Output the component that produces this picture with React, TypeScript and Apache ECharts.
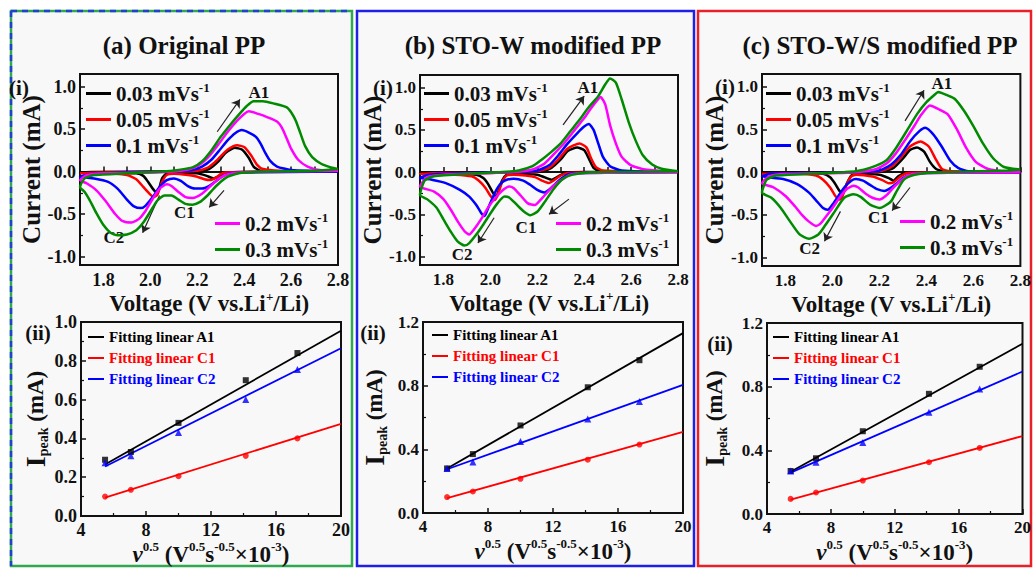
import React, { useEffect, useRef } from 'react';
import * as echarts from 'echarts';

const FONT = '"Liberation Serif", "Times New Roman", serif';
const INK = '#111111';

// ---------- data ----------
const scanRates = ['0.03', '0.05', '0.1', '0.2', '0.3'];
const cvColors = ['#000000', '#ff0000', '#0000ff', '#ff00ff', '#008a00'];

// Panel (a) Original PP : CV loops [V, mA], cathodic 2.8 -> 1.7 then anodic 1.7 -> 2.8
const cvA_003 = [[2.8,0],[2.5,0],[2.33,-0.01],[2.3,-0.04],[2.27,-0.08],[2.24,-0.05],[2.2,-0.02],[2.1,-0.015],[2.07,-0.02],[2.05,-0.08],[2.035,-0.22],[2.025,-0.24],[2.01,-0.2],[1.99,-0.12],[1.97,-0.05],[1.94,-0.02],[1.85,-0.012],[1.7,-0.01],
  [1.75,-0.005],[2.0,0],[2.2,0.005],[2.25,0.03],[2.29,0.12],[2.32,0.22],[2.36,0.28],[2.39,0.26],[2.42,0.16],[2.44,0.06],[2.47,0.01],[2.6,0],[2.8,0]];
const cvA_005 = [[2.8,0],[2.4,-0.005],[2.32,-0.01],[2.3,-0.03],[2.28,-0.07],[2.255,-0.1],[2.23,-0.09],[2.2,-0.06],[2.16,-0.04],[2.1,-0.025],[2.07,-0.04],[2.05,-0.12],[2.03,-0.27],[2.015,-0.3],[2.0,-0.27],[1.97,-0.18],[1.94,-0.09],[1.9,-0.04],[1.8,-0.02],[1.7,-0.02],
  [1.75,-0.012],[1.9,-0.01],[2.1,0],[2.2,0.01],[2.24,0.04],[2.27,0.1],[2.3,0.18],[2.33,0.26],[2.37,0.31],[2.4,0.29],[2.43,0.19],[2.455,0.08],[2.48,0.03],[2.55,0.01],[2.8,0]];
const cvA_01 = [[2.8,0],[2.4,-0.01],[2.34,-0.02],[2.31,-0.05],[2.28,-0.11],[2.25,-0.17],[2.22,-0.2],[2.19,-0.2],[2.16,-0.17],[2.13,-0.11],[2.1,-0.08],[2.07,-0.1],[2.04,-0.18],[2.01,-0.3],[1.98,-0.4],[1.96,-0.43],[1.93,-0.41],[1.9,-0.33],[1.86,-0.2],[1.82,-0.12],[1.76,-0.08],[1.7,-0.06],
  [1.74,-0.03],[1.9,-0.01],[2.1,0],[2.18,0.02],[2.22,0.06],[2.26,0.14],[2.3,0.27],[2.33,0.37],[2.36,0.45],[2.39,0.49],[2.42,0.46],[2.45,0.41],[2.47,0.33],[2.49,0.22],[2.51,0.13],[2.54,0.06],[2.6,0.02],[2.8,0]];
const cvA_02 = [[2.8,0.01],[2.5,0],[2.38,-0.01],[2.33,-0.03],[2.3,-0.07],[2.26,-0.16],[2.22,-0.26],[2.18,-0.31],[2.15,-0.3],[2.12,-0.24],[2.09,-0.17],[2.07,-0.15],[2.04,-0.2],[2.01,-0.32],[1.98,-0.46],[1.95,-0.56],[1.92,-0.6],[1.88,-0.58],[1.85,-0.5],[1.81,-0.35],[1.77,-0.22],[1.73,-0.14],[1.7,-0.1],
  [1.73,-0.04],[1.8,-0.02],[2.0,-0.01],[2.1,0],[2.17,0.03],[2.21,0.08],[2.25,0.18],[2.29,0.32],[2.33,0.47],[2.37,0.6],[2.4,0.68],[2.42,0.71],[2.46,0.68],[2.5,0.64],[2.54,0.59],[2.56,0.52],[2.58,0.4],[2.6,0.27],[2.63,0.14],[2.67,0.06],[2.72,0.02],[2.8,0.01]];
const cvA_03 = [[2.8,0.03],[2.7,0.01],[2.5,0],[2.4,-0.01],[2.36,-0.03],[2.33,-0.06],[2.3,-0.12],[2.27,-0.2],[2.24,-0.29],[2.21,-0.36],[2.18,-0.39],[2.15,-0.38],[2.12,-0.33],[2.09,-0.28],[2.06,-0.28],[2.03,-0.34],[2.0,-0.47],[1.97,-0.6],[1.94,-0.69],[1.9,-0.74],[1.86,-0.75],[1.83,-0.72],[1.8,-0.63],[1.77,-0.49],[1.74,-0.33],[1.72,-0.24],[1.7,-0.18],
  [1.72,-0.08],[1.76,-0.04],[1.9,-0.02],[2.05,0],[2.12,0.02],[2.18,0.05],[2.22,0.12],[2.26,0.25],[2.3,0.41],[2.34,0.55],[2.38,0.68],[2.41,0.77],[2.44,0.83],[2.48,0.83],[2.53,0.8],[2.58,0.76],[2.6,0.7],[2.62,0.6],[2.64,0.45],[2.66,0.3],[2.69,0.17],[2.73,0.09],[2.77,0.05],[2.8,0.03]];

// Panel (b) STO-W modified PP
const cvB_003 = [[2.8,0],[2.4,0],[2.32,-0.01],[2.29,-0.05],[2.26,-0.09],[2.23,-0.06],[2.2,-0.03],[2.1,-0.02],[2.07,-0.03],[2.05,-0.1],[2.035,-0.22],[2.025,-0.29],[2.01,-0.24],[1.99,-0.14],[1.97,-0.07],[1.94,-0.03],[1.85,-0.02],[1.7,-0.01],
  [1.8,-0.005],[2.1,0],[2.22,0.01],[2.26,0.05],[2.3,0.15],[2.33,0.25],[2.37,0.29],[2.4,0.26],[2.42,0.16],[2.44,0.05],[2.47,0.01],[2.8,0]];
const cvB_005 = [[2.8,0],[2.4,-0.005],[2.33,-0.01],[2.3,-0.04],[2.27,-0.1],[2.25,-0.13],[2.22,-0.1],[2.19,-0.06],[2.15,-0.04],[2.1,-0.03],[2.07,-0.04],[2.05,-0.12],[2.03,-0.28],[2.018,-0.33],[2.0,-0.28],[1.98,-0.19],[1.95,-0.1],[1.92,-0.05],[1.85,-0.03],[1.7,-0.02],
  [1.8,-0.012],[2.0,-0.01],[2.1,0],[2.2,0.01],[2.25,0.05],[2.29,0.15],[2.33,0.28],[2.38,0.34],[2.41,0.29],[2.43,0.16],[2.45,0.06],[2.48,0.02],[2.8,0]];
const cvB_01 = [[2.8,0],[2.4,-0.01],[2.34,-0.02],[2.31,-0.06],[2.28,-0.13],[2.25,-0.21],[2.23,-0.24],[2.2,-0.21],[2.17,-0.15],[2.14,-0.1],[2.1,-0.08],[2.07,-0.09],[2.05,-0.12],[2.03,-0.19],[2.01,-0.3],[1.99,-0.43],[1.975,-0.52],[1.96,-0.48],[1.94,-0.39],[1.91,-0.29],[1.87,-0.21],[1.81,-0.13],[1.75,-0.09],[1.7,-0.07],
  [1.74,-0.03],[1.9,-0.01],[2.1,0],[2.2,0.02],[2.25,0.08],[2.29,0.2],[2.33,0.34],[2.37,0.46],[2.4,0.54],[2.42,0.57],[2.44,0.5],[2.46,0.34],[2.48,0.18],[2.51,0.07],[2.56,0.02],[2.8,0]];
const cvB_02 = [[2.8,0],[2.4,-0.01],[2.34,-0.03],[2.31,-0.08],[2.27,-0.16],[2.23,-0.28],[2.2,-0.37],[2.19,-0.39],[2.16,-0.37],[2.13,-0.28],[2.1,-0.19],[2.08,-0.17],[2.05,-0.22],[2.02,-0.31],[1.99,-0.42],[1.96,-0.56],[1.93,-0.68],[1.91,-0.74],[1.89,-0.7],[1.86,-0.58],[1.83,-0.44],[1.8,-0.32],[1.76,-0.23],[1.7,-0.17],
  [1.73,-0.06],[1.8,-0.03],[2.0,-0.01],[2.1,0],[2.18,0.03],[2.23,0.1],[2.28,0.24],[2.32,0.36],[2.36,0.5],[2.4,0.64],[2.43,0.76],[2.455,0.85],[2.47,0.89],[2.49,0.8],[2.51,0.56],[2.535,0.34],[2.56,0.18],[2.6,0.08],[2.66,0.03],[2.8,0]];
const cvB_03 = [[2.8,0.01],[2.5,0],[2.4,-0.01],[2.35,-0.03],[2.31,-0.08],[2.27,-0.2],[2.23,-0.36],[2.2,-0.47],[2.17,-0.51],[2.14,-0.46],[2.11,-0.38],[2.08,-0.3],[2.06,-0.29],[2.03,-0.37],[2.0,-0.49],[1.97,-0.62],[1.94,-0.74],[1.91,-0.84],[1.89,-0.87],[1.86,-0.82],[1.83,-0.7],[1.8,-0.56],[1.77,-0.42],[1.73,-0.32],[1.7,-0.27],
  [1.72,-0.1],[1.76,-0.05],[1.9,-0.02],[2.05,0],[2.12,0.02],[2.18,0.07],[2.22,0.15],[2.26,0.24],[2.3,0.34],[2.34,0.48],[2.38,0.62],[2.42,0.77],[2.46,0.9],[2.49,1.04],[2.51,1.11],[2.535,1.06],[2.56,0.86],[2.59,0.59],[2.62,0.37],[2.65,0.2],[2.69,0.09],[2.73,0.04],[2.8,0.01]];

// Panel (c) STO-W/S modified PP
const cvC_003 = [[2.8,0],[2.4,0],[2.31,-0.01],[2.28,-0.05],[2.26,-0.1],[2.24,-0.07],[2.2,-0.03],[2.1,-0.02],[2.08,-0.04],[2.06,-0.14],[2.045,-0.25],[2.03,-0.22],[2.01,-0.13],[1.99,-0.06],[1.96,-0.02],[1.85,-0.01],[1.7,-0.01],
  [1.8,-0.005],[2.1,0],[2.22,0.01],[2.26,0.05],[2.3,0.16],[2.33,0.26],[2.36,0.29],[2.39,0.24],[2.415,0.12],[2.44,0.04],[2.47,0.01],[2.8,0]];
const cvC_005 = [[2.8,0],[2.4,-0.005],[2.32,-0.01],[2.29,-0.05],[2.26,-0.12],[2.24,-0.13],[2.21,-0.09],[2.17,-0.05],[2.1,-0.03],[2.08,-0.05],[2.06,-0.15],[2.04,-0.3],[2.03,-0.32],[2.01,-0.27],[1.99,-0.18],[1.96,-0.09],[1.93,-0.04],[1.85,-0.02],[1.7,-0.02],
  [1.8,-0.012],[2.0,-0.01],[2.1,0],[2.2,0.01],[2.25,0.06],[2.29,0.17],[2.33,0.3],[2.375,0.36],[2.41,0.3],[2.44,0.15],[2.465,0.04],[2.5,0.01],[2.8,0]];
const cvC_01 = [[2.8,0],[2.4,-0.01],[2.33,-0.03],[2.3,-0.07],[2.27,-0.14],[2.24,-0.2],[2.22,-0.22],[2.19,-0.2],[2.16,-0.15],[2.13,-0.1],[2.1,-0.08],[2.08,-0.1],[2.05,-0.18],[2.03,-0.26],[2.0,-0.38],[1.98,-0.44],[1.96,-0.42],[1.93,-0.33],[1.9,-0.24],[1.85,-0.14],[1.79,-0.08],[1.7,-0.05],
  [1.74,-0.02],[1.9,-0.01],[2.1,0],[2.2,0.02],[2.25,0.09],[2.29,0.2],[2.33,0.36],[2.37,0.48],[2.395,0.52],[2.43,0.44],[2.465,0.3],[2.5,0.14],[2.535,0.05],[2.58,0.01],[2.8,0]];
const cvC_02 = [[2.8,0],[2.4,-0.01],[2.33,-0.03],[2.3,-0.08],[2.26,-0.18],[2.23,-0.27],[2.2,-0.32],[2.17,-0.3],[2.14,-0.25],[2.11,-0.18],[2.09,-0.16],[2.06,-0.2],[2.03,-0.3],[2.0,-0.42],[1.97,-0.53],[1.95,-0.6],[1.93,-0.63],[1.9,-0.58],[1.87,-0.5],[1.84,-0.4],[1.8,-0.28],[1.75,-0.18],[1.7,-0.13],
  [1.73,-0.05],[1.8,-0.02],[2.0,-0.01],[2.1,0],[2.18,0.03],[2.23,0.1],[2.27,0.22],[2.31,0.38],[2.35,0.55],[2.38,0.68],[2.415,0.78],[2.45,0.74],[2.49,0.68],[2.53,0.5],[2.57,0.28],[2.61,0.12],[2.66,0.04],[2.72,0.01],[2.8,0]];
const cvC_03 = [[2.8,0.03],[2.75,0.02],[2.5,0],[2.4,-0.01],[2.35,-0.03],[2.32,-0.06],[2.3,-0.1],[2.27,-0.24],[2.25,-0.34],[2.22,-0.4],[2.2,-0.42],[2.16,-0.38],[2.12,-0.29],[2.09,-0.26],[2.05,-0.3],[2.01,-0.46],[1.97,-0.62],[1.94,-0.73],[1.9,-0.78],[1.86,-0.73],[1.82,-0.58],[1.78,-0.42],[1.74,-0.3],[1.7,-0.24],
  [1.72,-0.09],[1.76,-0.04],[1.9,-0.02],[2.05,0],[2.1,0.01],[2.16,0.05],[2.23,0.14],[2.27,0.28],[2.32,0.5],[2.36,0.68],[2.4,0.82],[2.44,0.92],[2.45,0.94],[2.49,0.9],[2.52,0.86],[2.56,0.72],[2.6,0.54],[2.64,0.34],[2.685,0.16],[2.73,0.06],[2.8,0.03]];

// (ii) peak currents vs square root of scan rate
const sqrtRate = [5.48, 7.07, 10, 14.14, 17.32];
const fitEndX = [5.48, 20];
const peakA_A1 = [0.29, 0.33, 0.48, 0.70, 0.84];
const peakA_C1 = [0.10, 0.135, 0.205, 0.31, 0.40];
const peakA_C2 = [0.275, 0.31, 0.43, 0.60, 0.755];
const fitA_A1 = [0.265, 0.955];
const fitA_C1 = [0.095, 0.475];
const fitA_C2 = [0.255, 0.865];
const peakB_A1 = [0.28, 0.37, 0.55, 0.79, 0.96];
const peakB_C1 = [0.10, 0.135, 0.215, 0.335, 0.43];
const peakB_C2 = [0.28, 0.32, 0.45, 0.59, 0.70];
const fitB_A1 = [0.28, 1.13];
const fitB_C1 = [0.093, 0.51];
const fitB_C2 = [0.275, 0.805];
const peakC_A1 = [0.27, 0.35, 0.52, 0.755, 0.925];
const peakC_C1 = [0.095, 0.135, 0.21, 0.325, 0.415];
const peakC_C2 = [0.27, 0.325, 0.45, 0.64, 0.785];
const fitC_A1 = [0.265, 1.07];
const fitC_C1 = [0.09, 0.49];
const fitC_C2 = [0.26, 0.895];

// annotation arrows [x1, y1, x2, y2] and labels [text, x, y] (data coords)
const arrowsA = [[2.285, 0.47, 2.382, 0.85], [2.314, -0.22, 2.251, -0.42], [2.039, -0.28, 1.967, -0.72]];
const labelsA = [['A1', 2.463, 0.93], ['C1', 2.145, -0.48], ['C2', 1.844, -0.775]];
const arrowsB = [[2.31, 0.56, 2.4, 0.9], [2.335, -0.32, 2.25, -0.5], [2.016, -0.54, 1.947, -0.84]];
const labelsB = [['A1', 2.416, 1.0], ['C1', 2.152, -0.65], ['C2', 1.88, -0.98]];
const arrowsC = [[2.309, 0.6, 2.39, 0.96], [2.33, -0.18, 2.254, -0.45], [2.034, -0.46, 1.966, -0.81]];
const labelsC = [['A1', 2.466, 1.04], ['C1', 2.195, -0.53], ['C2', 1.903, -0.89]];

const panels = [
  { key: 'a', title: '(a) Original PP', cv: [cvA_003, cvA_005, cvA_01, cvA_02, cvA_03],
    peaks: [peakA_A1, peakA_C1, peakA_C2], fits: [fitA_A1, fitA_C1, fitA_C2], yMax2: 1.0, yInt2: 0.2,
    arrows: arrowsA, labels: labelsA },
  { key: 'b', title: '(b) STO-W modified PP', cv: [cvB_003, cvB_005, cvB_01, cvB_02, cvB_03],
    peaks: [peakB_A1, peakB_C1, peakB_C2], fits: [fitB_A1, fitB_C1, fitB_C2], yMax2: 1.2, yInt2: 0.4,
    arrows: arrowsB, labels: labelsB },
  { key: 'c', title: '(c) STO-W/S modified PP', cv: [cvC_003, cvC_005, cvC_01, cvC_02, cvC_03],
    peaks: [peakC_A1, peakC_C1, peakC_C2], fits: [fitC_A1, fitC_C1, fitC_C2], yMax2: 1.2, yInt2: 0.4,
    arrows: arrowsC, labels: labelsC },
];
const fitNames = ['A1', 'C1', 'C2'];
const fitColors = ['#000000', '#ff0000', '#0000ff'];
const fitSymbols = ['rect', 'circle', 'triangle'];

// ---------- layout ----------
const layout = [
  { box: [11, 11, 341, 555], stroke: '#2fa84f', titleX: 184, tick: 18,
    g1: { left: 80, top: 74, width: 258, height: 191 }, g2: { left: 81, top: 322, width: 260, height: 194 },
    yGap1: 34, yGap2: 31, lg1: [86, 81], lg1b: [215, 211], lg2: [88, 328], i: [19, 88], ii: [38, 333] },
  { box: [357, 11, 337, 555], stroke: '#1f1fe6', titleX: 533, tick: 17,
    g1: { left: 420, top: 75, width: 258, height: 190 }, g2: { left: 423, top: 322, width: 260, height: 191 },
    yGap1: 18, yGap2: 34, lg1: [424, 81], lg1b: [556, 211], lg2: [432, 326], i: [383, 88], ii: [373, 333] },
  { box: [698, 11, 333, 555], stroke: '#e8202a', titleX: 880, tick: 17,
    g1: { left: 762, top: 74, width: 260, height: 192 }, g2: { left: 767, top: 323, width: 258, height: 191 },
    yGap1: 21, yGap2: 38, lg1: [766, 81], lg1b: [900, 209], lg2: [773, 328], i: [725, 87], ii: [720, 344] },
];

const bold = { fontWeight: 'bold' as const, fontFamily: FONT, color: INK };

function buildOption() {
  const grid: any[] = [];
  const xAxis: any[] = [];
  const yAxis: any[] = [];
  const legend: any[] = [];
  const series: any[] = [];
  const graphic: any[] = [];
  const legendText: Record<string, string> = {};

  const axisCommon = {
    axisLine: { show: true, lineStyle: { color: INK, width: 2 } },
    axisTick: { show: true, inside: true, length: 5, lineStyle: { color: INK, width: 1.5 } },
    splitLine: { show: false },
  };

  panels.forEach((p, pi) => {
    const L = layout[pi];
    const tickLabel = { ...bold, fontSize: L.tick };
    const gCV = pi * 2;
    const gFit = pi * 2 + 1;
    grid.push({ ...L.g1, show: true, borderColor: INK, borderWidth: 2, backgroundColor: 'transparent' });
    grid.push({ ...L.g2, show: true, borderColor: INK, borderWidth: 2, backgroundColor: 'transparent' });

    xAxis.push({
      type: 'value', gridIndex: gCV, min: 1.7, max: 2.8, interval: 0.1, ...axisCommon,
      axisLabel: { ...tickLabel, margin: 6, formatter: (v: number) => (Math.round(v * 10) % 2 === 0 ? v.toFixed(1) : '') },
      name: '{n|Voltage (V vs.Li}{s|+}{n|/Li)}', nameLocation: 'middle', nameGap: 24,
      nameTextStyle: { rich: { n: { ...bold, fontSize: 23, lineHeight: 28 }, s: { ...bold, fontSize: 13, lineHeight: 14, verticalAlign: 'top' } } },
    });
    yAxis.push({
      type: 'value', gridIndex: gCV, min: -1.1, max: 1.15, splitNumber: 5, ...axisCommon,
      minorTick: { show: true, splitNumber: 2, length: 3, lineStyle: { color: INK, width: 1.2 } },
      axisLabel: { ...tickLabel, margin: 4, showMinLabel: false, showMaxLabel: false, formatter: (v: number) => v.toFixed(1) },
      name: '{n|Current (mA)}', nameLocation: 'middle', nameGap: L.yGap1,
      nameTextStyle: { rich: { n: { ...bold, fontSize: 25, lineHeight: 28 } } },
    });
    xAxis.push({
      type: 'value', gridIndex: gFit, min: 4, max: 20, interval: 4, ...axisCommon,
      minorTick: { show: true, splitNumber: 2, length: 3, lineStyle: { color: INK, width: 1.2 } },
      axisLabel: { ...tickLabel, margin: 5 },
      name: '{i|ν}{s|0.5}{n| (V}{s|0.5}{n|s}{s|-0.5}{n|×10}{s|-3}{n|)}', nameLocation: 'middle', nameGap: 24,
      nameTextStyle: { rich: {
        i: { ...bold, fontSize: 23, lineHeight: 28, fontStyle: 'italic' },
        n: { ...bold, fontSize: 23, lineHeight: 28 },
        s: { ...bold, fontSize: 13, lineHeight: 14, verticalAlign: 'top' },
      } },
    });
    yAxis.push({
      type: 'value', gridIndex: gFit, min: 0, max: p.yMax2, interval: p.yInt2, ...axisCommon,
      minorTick: { show: true, splitNumber: 2, length: 3, lineStyle: { color: INK, width: 1.2 } },
      axisLabel: { ...tickLabel, margin: 4, formatter: (v: number) => v.toFixed(1) },
      name: '{b|I}{sub|peak}{n| (mA)}', nameLocation: 'middle', nameGap: L.yGap2,
      nameTextStyle: { rich: {
        b: { ...bold, fontSize: 28, lineHeight: 30 },
        sub: { ...bold, fontSize: 14, lineHeight: 16, verticalAlign: 'bottom' },
        n: { ...bold, fontSize: 23, lineHeight: 30 },
      } },
    });

    // CV series
    p.cv.forEach((curve, ci) => {
      const name = `${p.key}${ci}`;
      legendText[name] = `{n|${scanRates[ci]} mVs}{s|-1}`;
      const s: any = {
        type: 'line', name, xAxisIndex: gCV, yAxisIndex: gCV, data: curve, showSymbol: false,
        smooth: 0.2, color: cvColors[ci], lineStyle: { width: 2.5, color: cvColors[ci] }, z: 3 + ci, silent: true,
      };
      if (ci === 4) {
        s.markLine = {
          silent: true, symbol: ['none', 'arrow'], symbolSize: 8, animation: false,
          lineStyle: { color: '#222', width: 1.2, type: 'solid' }, label: { show: false },
          data: p.arrows.map((a) => [{ coord: [a[0], a[1]] }, { coord: [a[2], a[3]] }]),
        };
        s.markPoint = {
          silent: true, symbol: 'circle', symbolSize: 1, itemStyle: { color: 'rgba(0,0,0,0)' }, animation: false,
          label: { show: true, position: 'inside', formatter: '{b}', ...bold, fontSize: 17 },
          data: p.labels.map((l) => ({ name: l[0], coord: [l[1], l[2]] })),
        };
      }
      series.push(s);
    });

    // fits + points
    p.fits.forEach((fit, fi) => {
      const name = `${p.key}-${fitNames[fi]}`;
      legendText[name] = `Fitting linear ${fitNames[fi]}`;
      series.push({
        type: 'line', name, xAxisIndex: gFit, yAxisIndex: gFit, showSymbol: false, silent: true,
        data: fitEndX.map((x, i) => [x, fit[i]]), color: fitColors[fi], lineStyle: { width: 1.8, color: fitColors[fi] }, z: 3,
      });
      series.push({
        type: 'scatter', name: `${name}-pts`, xAxisIndex: gFit, yAxisIndex: gFit, silent: true,
        data: sqrtRate.map((x, i) => [x, p.peaks[fi][i]]), symbol: fitSymbols[fi], symbolSize: fi === 2 ? 7 : 6,
        itemStyle: { color: fitColors[fi] }, z: 4,
      });
    });

    const cvRich = { rich: { n: { ...bold, fontSize: 21, lineHeight: 25 }, s: { ...bold, fontSize: 13, lineHeight: 14, verticalAlign: 'top' } } };
    legend.push({
      orient: 'vertical', left: L.lg1[0], top: L.lg1[1], itemWidth: 25, itemHeight: 3, itemGap: 3, icon: 'rect',
      padding: 0, selectedMode: false, data: [0, 1, 2].map((i) => `${p.key}${i}`),
      formatter: (n: string) => legendText[n], textStyle: cvRich,
    });
    legend.push({
      orient: 'vertical', left: L.lg1b[0], top: L.lg1b[1], itemWidth: 25, itemHeight: 3, itemGap: 3, icon: 'rect',
      padding: 0, selectedMode: false, data: [3, 4].map((i) => `${p.key}${i}`),
      formatter: (n: string) => legendText[n], textStyle: cvRich,
    });
    legend.push({
      orient: 'vertical', left: L.lg2[0], top: L.lg2[1], itemWidth: 16, itemHeight: 2, itemGap: 3, icon: 'rect',
      padding: 0, selectedMode: false,
      data: fitNames.map((f, fi) => ({ name: `${p.key}-${f}`, textStyle: { color: fitColors[fi] } })),
      formatter: (n: string) => legendText[n], textStyle: { ...bold, fontSize: 15, lineHeight: 18 },
    });

    // panel frame and texts
    const [bx, by, bw, bh] = L.box;
    graphic.push({ type: 'rect', z: -10, shape: { x: bx, y: by, width: bw, height: bh }, style: { fill: '#f8f8f8', stroke: L.stroke, lineWidth: 2.5 } });
    graphic.push({ type: 'text', x: L.titleX, y: 45, style: { text: p.title, font: `bold 25px ${FONT}`, fill: INK, textAlign: 'center', textVerticalAlign: 'middle', align: 'center', verticalAlign: 'middle' } });
    graphic.push({ type: 'text', x: L.i[0], y: L.i[1], style: { text: '(i)', font: `bold 21px ${FONT}`, fill: INK, textAlign: 'center', textVerticalAlign: 'middle', align: 'center', verticalAlign: 'middle' } });
    graphic.push({ type: 'text', x: L.ii[0], y: L.ii[1], style: { text: '(ii)', font: `bold 21px ${FONT}`, fill: INK, textAlign: 'center', textVerticalAlign: 'middle', align: 'center', verticalAlign: 'middle' } });
  });

  // dashed blue accent on panel (a) left and top edges
  graphic.push({ type: 'line', z: -5, shape: { x1: 11, y1: 11, x2: 11, y2: 566 }, style: { stroke: '#2040d0', lineWidth: 2.5, lineDash: [6, 5] } });
  graphic.push({ type: 'line', z: -5, shape: { x1: 11, y1: 11, x2: 352, y2: 11 }, style: { stroke: '#2040d0', lineWidth: 2.5, lineDash: [6, 5] } });

  return { animation: false, backgroundColor: '#ffffff', graphic: { elements: graphic }, grid, xAxis, yAxis, legend, series };
}

export default function App() {
  const ref = useRef<HTMLDivElement>(null);
  useEffect(() => {
    if (!ref.current) return;
    const chart = echarts.init(ref.current, undefined, { renderer: 'svg' });
    chart.setOption(buildOption() as any);
    return () => chart.dispose();
  }, []);
  return <div ref={ref} style={{ position: 'absolute', left: 0, top: 0, width: 1034, height: 570 }} />;
}
